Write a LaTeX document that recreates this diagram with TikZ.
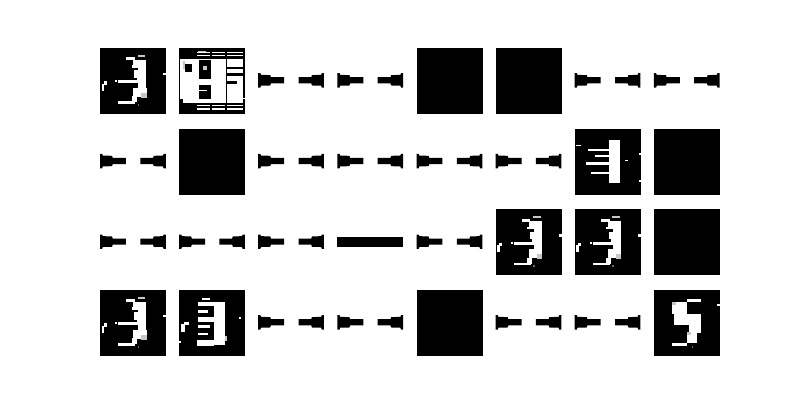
\documentclass[tikz,border=0pt]{standalone}
\tikzset{
  px/.style={fill=white},
  gp/.style={fill=white!78!black},
  bk/.style={fill=black},
}
\newcommand\putimg[3]{\begin{scope}[xshift=#1pt,yshift=-#2pt,x=2.3571pt,y=-2.3571pt]#3\end{scope}}
\newcommand\imgblack{\fill[bk] (0,0) rectangle (28,28);}
\newcommand\imgbar{%
  \fill[bk] (0,10.7) -- (0.9,10.7) -- (1.2,11.4) -- (5.1,11.5) -- (5.4,12.4) -- (11,12.4) -- (11,15) -- (5.4,15) -- (5.1,15.9) -- (1.2,16) -- (0.9,16.8) -- (0,16.8) -- cycle;
  \fill[bk] (27.9,10.7) -- (27.0,10.7) -- (26.7,11.4) -- (22.8,11.5) -- (22.5,12.4) -- (17.1,12.4) -- (17.1,15) -- (22.5,15) -- (22.8,15.9) -- (26.7,16) -- (27.0,16.8) -- (27.9,16.8) -- cycle;}
\newcommand\imgfull{\fill[bk] (0,11.75) rectangle (27.9,16);}
\newcommand\imgA{%
  \fill[bk] (0,0) rectangle (28,28);
  \fill[gp] (16,2.8) rectangle (19.1,3.8);
  \fill[px] (11,4) rectangle (14.8,5.2);
  \fill[px] (16.3,5) rectangle (19.5,19.1);
  \fill[px] (14.1,5) rectangle (16.5,7.3);
  \fill[px] (13.4,7.3) rectangle (16.5,8.3);
  \fill[px] (14.6,9.5) rectangle (16.5,12.8);
  \fill[px] (15.5,12.8) rectangle (16.5,13.7);
  \fill[px] (7.8,13.7) rectangle (16.7,15);
  \fill[px] (6.4,13.7) rectangle (7.2,14.6);
  \fill[px] (1.5,14.1) rectangle (2.8,15.6);
  \fill[px] (0.7,15.2) rectangle (1.9,18.1);
  \fill[px] (14.1,17) rectangle (19.8,20.8);
  \fill[gp] (17.5,19) rectangle (19.8,21.2);
  \fill[px] (13.4,20.5) rectangle (15.6,23);
  \fill[px] (7.8,22.6) rectangle (14.9,23.6);
  \fill[px] (26.9,10.6) rectangle (28,11.6);
  \fill[white!40!black] (16,23.8) rectangle (16.7,24.5);}
\newcommand\imgB{%
  \fill[bk] (0,0) rectangle (28,28);
  \fill[gp] (8,1.1) rectangle (11.5,1.6);
  \fill[px] (7.5,1.6) rectangle (13.3,2.1);
  \fill[px] (13.8,1.6) rectangle (19.5,2.1);
  \fill[px] (20.3,1.6) rectangle (27.3,2.1);
  \fill[px] (7.5,3) rectangle (13.3,3.5);
  \fill[px] (13.8,3) rectangle (19.5,3.5);
  \fill[px] (20.3,3) rectangle (27.3,3.5);
  \fill[px] (0.5,4.5) rectangle (27,23.5);
  \fill[bk] (2.5,6.8) rectangle (5.5,10);
  \fill[gp] (1.5,5.5) rectangle (2.5,9);
  \fill[bk] (8.5,5) rectangle (13.4,13.2);
  \fill[gp] (10,7.8) rectangle (12,9.2);
  \fill[bk] (8.5,15.6) rectangle (13.4,21.6);
  \fill[px] (8.5,17.7) rectangle (12,18.4);
  \fill[bk] (19.8,4.5) rectangle (20.4,23.5);
  \fill[bk] (20.4,8) rectangle (27,8.8);
  \fill[bk] (20.4,10.4) rectangle (27,11.8);
  \fill[bk] (20.4,14.2) rectangle (24.5,15.2);
  \fill[bk] (0.5,21.5) rectangle (1.5,23.5);
  \fill[px] (7.5,24.2) rectangle (13.3,24.7);
  \fill[px] (13.8,24.2) rectangle (19.5,24.7);
  \fill[px] (20.3,24.2) rectangle (27.3,24.7);
  \fill[px] (7.5,25.6) rectangle (13.3,26.1);
  \fill[px] (13.8,25.6) rectangle (19.5,26.1);
  \fill[px] (20.3,25.6) rectangle (27.3,26.1);
  \fill[px] (27,21) rectangle (28,21.8);}
\newcommand\imgBb{%
  \fill[bk] (0,0) rectangle (28,28);
  \fill[px] (9.6,3.3) rectangle (13.2,4.2);
  \fill[px] (8.2,4.9) rectangle (19.5,6.6);
  \fill[px] (14.6,5) rectangle (19.5,23.5);
  \fill[px] (8.2,8.5) rectangle (12.4,9.6);
  \fill[px] (8.2,11.3) rectangle (14.6,13.4);
  \fill[px] (8.2,14.9) rectangle (13.2,16);
  \fill[px] (8.2,18.1) rectangle (12.4,19.1);
  \fill[px] (7.5,21.2) rectangle (14.6,23.8);
  \fill[gp] (19.5,19.5) rectangle (20.2,21.5);
  \fill[px] (2,13.4) rectangle (4,15);
  \fill[px] (0.8,14.5) rectangle (2.3,17.7);
  \fill[px] (0,21.7) rectangle (0.8,22.4);
  \fill[px] (25.2,11.6) rectangle (26.2,12.4);}
\newcommand\imgC{%
  \fill[bk] (0,0) rectangle (28,28);
  \fill[px] (0.7,6.8) rectangle (2.8,7.5);
  \fill[px] (14.6,4.7) rectangle (19.4,23);
  \fill[px] (5.7,8.4) rectangle (14.6,9.4);
  \fill[px] (8.5,11.2) rectangle (14.6,12);
  \fill[px] (5,14.1) rectangle (14.6,15.3);
  \fill[px] (7,18.3) rectangle (14.6,19.3);
  \fill[px] (21.2,13.1) rectangle (22.6,13.9);
  \fill[px] (27.3,10.3) rectangle (28,11);
  \fill[px] (27.3,21.8) rectangle (28,22.6);}
\newcommand\imgD{%
  \fill[bk] (0,0) rectangle (28,28);
  \fill[px] (14.1,4) rectangle (19.8,5);
  \fill[px] (26.9,5.9) rectangle (28,6.8);
  \fill[px] (7.8,5) rectangle (14.1,10);
  \fill[gp] (7.8,5) rectangle (9.5,6.5);
  \fill[px] (8.5,10) rectangle (19.8,14.8);
  \fill[px] (14.8,12.7) rectangle (19.8,18.2);
  \fill[px] (14.1,17.7) rectangle (18.4,22.6);
  \fill[gp] (14.1,17.7) rectangle (15.8,19.2);
  \fill[px] (7.8,22.6) rectangle (14.1,23.6);
  \fill[white!40!black] (16,23.8) rectangle (16.7,24.5);}
\begin{document}
\begin{tikzpicture}[x=1pt,y=-1pt]
\useasboundingbox[fill=white] (0,0) rectangle (800,400);
% row 1
\putimg{100}{48}{\imgA}
\putimg{179.1}{48}{\imgB}
\putimg{258.2}{48}{\imgbar}
\putimg{337.4}{48}{\imgbar}
\putimg{416.5}{48}{\imgblack}
\putimg{495.6}{48}{\imgblack}
\putimg{574.7}{48}{\imgbar}
\putimg{653.9}{48}{\imgbar}
% row 2
\putimg{100}{128.7}{\imgbar}
\putimg{179.1}{128.7}{\imgblack}
\putimg{258.2}{128.7}{\imgbar}
\putimg{337.4}{128.7}{\imgbar}
\putimg{416.5}{128.7}{\imgbar}
\putimg{495.6}{128.7}{\imgbar}
\putimg{574.7}{128.7}{\imgC}
\putimg{653.9}{128.7}{\imgblack}
% row 3
\putimg{100}{209.3}{\imgbar}
\putimg{179.1}{209.3}{\imgbar}
\putimg{258.2}{209.3}{\imgbar}
\putimg{337.4}{209.3}{\imgfull}
\putimg{416.5}{209.3}{\imgbar}
\putimg{495.6}{209.3}{\imgA}
\putimg{574.7}{209.3}{\imgA}
\putimg{653.9}{209.3}{\imgblack}
% row 4
\putimg{100}{290}{\imgA}
\putimg{179.1}{290}{\imgBb}
\putimg{258.2}{290}{\imgbar}
\putimg{337.4}{290}{\imgbar}
\putimg{416.5}{290}{\imgblack}
\putimg{495.6}{290}{\imgbar}
\putimg{574.7}{290}{\imgbar}
\putimg{653.9}{290}{\imgD}
\end{tikzpicture}
\end{document}
